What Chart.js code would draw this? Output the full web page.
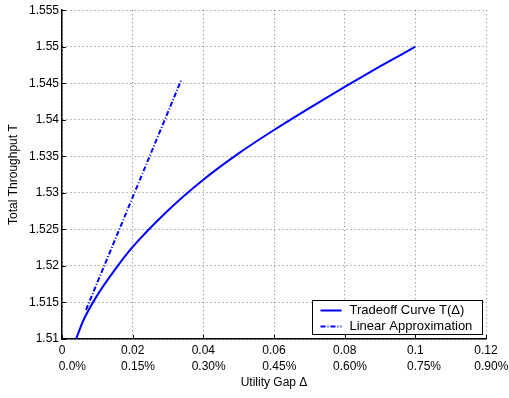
<!DOCTYPE html>
<html>
<head>
<meta charset="utf-8">
<script src="https://cdn.jsdelivr.net/npm/chart.js@4/dist/chart.umd.min.js"></script>
<style>
html,body{margin:0;padding:0;background:#fff;}
#wrap{width:509px;height:398px;position:relative;}
</style>
</head>
<body>
<div id="wrap"><canvas id="c" width="509" height="398"></canvas></div>
<script>
// ---- data ----
const tradeoffX = [0.004, 0.006, 0.01, 0.015, 0.02, 0.03, 0.04, 0.05, 0.06, 0.07, 0.08, 0.09, 0.1];
const tradeoffY = [1.51, 1.5125, 1.516, 1.5195, 1.5226, 1.5276, 1.5318, 1.5354, 1.5386, 1.5416, 1.5445, 1.5473, 1.55];
const linearX = [0.0068, 0.0338];
const linearY = [1.514, 1.5455];
const xTicks = [0, 0.02, 0.04, 0.06, 0.08, 0.1, 0.12];
const xTickLabels = ['0', '0.02', '0.04', '0.06', '0.08', '0.1', '0.12'];
const xTickPercent = ['0.0%', '0.15%', '0.30%', '0.45%', '0.60%', '0.75%', '0.90%'];
const yTicks = [1.51, 1.515, 1.52, 1.525, 1.53, 1.535, 1.54, 1.545, 1.55, 1.555];
const yTickLabels = ['1.51', '1.515', '1.52', '1.525', '1.53', '1.535', '1.54', '1.545', '1.55', '1.555'];
const seriesNames = ['Tradeoff Curve T(\u0394)', 'Linear Approximation'];

const FONT = '"Liberation Sans", Arial, Helvetica, sans-serif';

const customPlugin = {
  id: 'custom',
  afterDraw(chart) {
    const ctx = chart.ctx;
    const xs = chart.scales.x, ys = chart.scales.y;
    const ca = chart.chartArea;
    ctx.save();
    // inward ticks
    ctx.strokeStyle = '#000';
    ctx.lineWidth = 1;
    ctx.beginPath();
    xTicks.forEach(v => {
      const px = Math.round(xs.getPixelForValue(v)) + 0.5;
      ctx.moveTo(px, ca.bottom); ctx.lineTo(px, ca.bottom - 4);
    });
    yTicks.forEach(v => {
      const py = Math.round(ys.getPixelForValue(v)) + 0.5;
      ctx.moveTo(ca.left, py); ctx.lineTo(ca.left + 4, py);
    });
    ctx.stroke();
    // x tick labels (two lines, second left-aligned with first)
    ctx.font = '12px ' + FONT;
    ctx.fillStyle = '#000';
    ctx.textBaseline = 'middle';
    ctx.textAlign = 'left';
    xTicks.forEach((v, i) => {
      const px = xs.getPixelForValue(v);
      const w = ctx.measureText(xTickLabels[i]).width;
      const left = px - w / 2;
      ctx.fillText(xTickLabels[i], left, ca.bottom + 12);
      ctx.fillText(xTickPercent[i], left, ca.bottom + 28);
    });
    // legend
    const bx = 312.5, by = 300.5, bw = 170, bh = 34;
    ctx.fillStyle = '#fff';
    ctx.fillRect(bx, by, bw, bh);
    ctx.strokeStyle = '#000';
    ctx.lineWidth = 1;
    ctx.strokeRect(bx, by, bw, bh);
    ctx.font = '13px ' + FONT;
    chart.data.datasets.forEach((ds, i) => {
      const yy = by + 10 + i * 16;
      ctx.strokeStyle = ds.borderColor;
      ctx.lineWidth = ds.borderWidth;
      ctx.setLineDash(ds.borderDash || []);
      ctx.beginPath();
      ctx.moveTo(bx + 8, yy); ctx.lineTo(bx + 29, yy);
      ctx.stroke();
      ctx.setLineDash([]);
      ctx.fillStyle = '#000';
      ctx.fillText(ds.label, bx + 37, yy);
    });
    ctx.restore();
  }
};

new Chart(document.getElementById('c'), {
  type: 'line',
  data: {
    datasets: [
      {
        label: seriesNames[0],
        data: tradeoffX.map((x, i) => ({x: x, y: tradeoffY[i]})),
        borderColor: '#0000ff',
        borderWidth: 2,
        pointRadius: 0,
        cubicInterpolationMode: 'monotone',
        fill: false
      },
      {
        label: seriesNames[1],
        data: linearX.map((x, i) => ({x: x, y: linearY[i]})),
        borderColor: '#0000ff',
        borderWidth: 2,
        borderDash: [5, 2, 1, 2],
        pointRadius: 0,
        fill: false
      }
    ]
  },
  options: {
    responsive: false,
    animation: false,
    events: [],
    layout: {padding: {left: 0, right: 23, top: 5, bottom: 0}},
    plugins: {legend: {display: false}, tooltip: {enabled: false}},
    scales: {
      x: {
        type: 'linear',
        min: 0, max: 0.12,
        afterBuildTicks: s => { s.ticks = xTicks.map(v => ({value: v})); },
        afterFit: s => { s.height = 59; },
        ticks: {display: false},
        grid: {color: '#777', drawTicks: false, tickLength: 0},
        border: {display: true, color: '#000', width: 1.5, dash: [1, 3]},
        title: {display: true, text: 'Utility Gap \u0394', color: '#000',
                font: {family: FONT, size: 12}, padding: {top: 0, bottom: 8}}
      },
      y: {
        type: 'linear',
        min: 1.51, max: 1.555,
        afterBuildTicks: s => { s.ticks = yTicks.map(v => ({value: v})); },
        afterFit: s => { s.width = 62; },
        ticks: {
          color: '#000', font: {family: FONT, size: 12}, padding: 3,
          callback: (v) => { const i = yTicks.findIndex(t => Math.abs(t - v) < 1e-9); return i >= 0 ? yTickLabels[i] : ''; }
        },
        grid: {color: '#777', drawTicks: false, tickLength: 0},
        border: {display: true, color: '#000', width: 1.5, dash: [1, 3]},
        title: {display: true, text: 'Total Throughput T', color: '#000',
                font: {family: FONT, size: 12}, padding: {top: 6, bottom: 0}}
      }
    }
  },
  plugins: [customPlugin]
});
</script>
</body>
</html>
